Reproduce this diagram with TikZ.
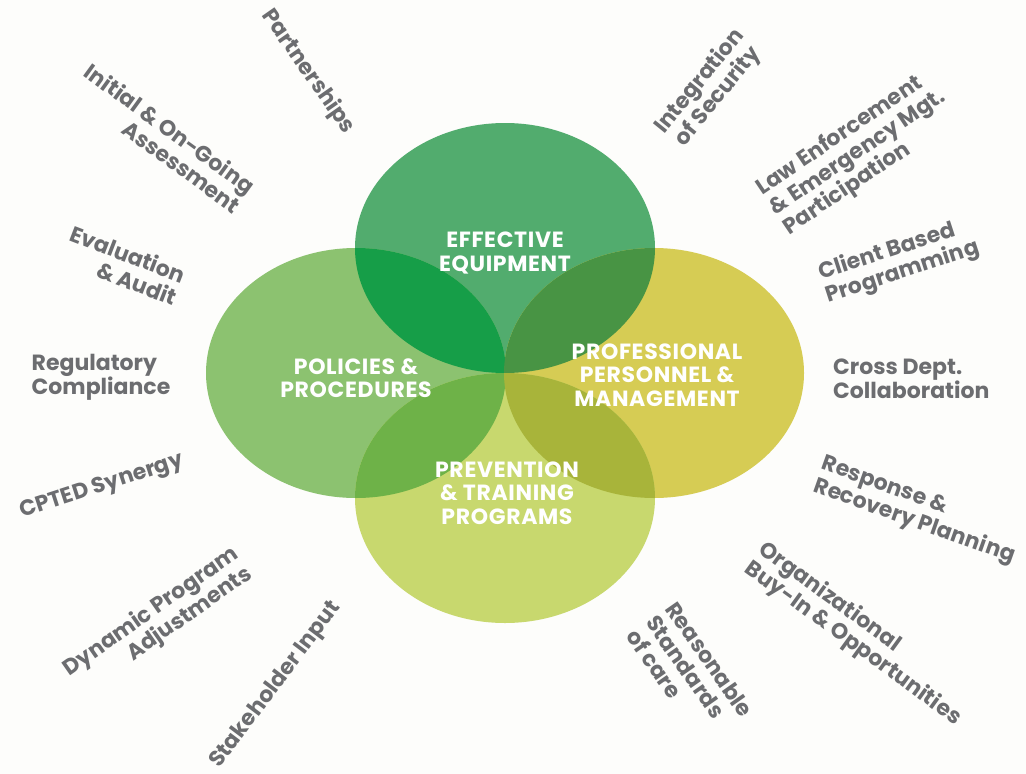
\documentclass[tikz,border=0pt]{standalone}
\usepackage{fontspec}
\setmainfont{Poppins}
\definecolor{paper}{RGB}{253,253,251}
\definecolor{labelgray}{RGB}{108,109,112}
\definecolor{topgreen}{RGB}{82,172,110}
\definecolor{leftgreen}{RGB}{140,194,112}
\definecolor{rightolive}{RGB}{214,204,84}
\definecolor{botlime}{RGB}{200,216,110}
\definecolor{topleft}{RGB}{22,158,72}
\definecolor{topright}{RGB}{72,148,68}
\definecolor{botleft}{RGB}{110,178,72}
\definecolor{botright}{RGB}{168,180,58}
\tikzset{
  outer/.style={text=labelgray, inner sep=0pt, font=\bfseries\fontsize{22}{24}\selectfont},
  inner/.style={text=white, align=center, inner sep=0pt, font=\bfseries\fontsize{22}{23.5}\selectfont\addfontfeature{LetterSpace=3}},
  petal/.style={x radius=150, y radius=125}
}
\begin{document}
\begin{tikzpicture}[x=1pt,y=-1pt]
\useasboundingbox[fill=paper] (0,0) rectangle (1026,774);

\coordinate (ctop) at (505,248);
\coordinate (cleft) at (356,373);
\coordinate (cright) at (654,373);
\coordinate (cbot) at (505,498);

\fill[topgreen] (ctop) ellipse [petal];
\fill[leftgreen] (cleft) ellipse [petal];
\fill[rightolive] (cright) ellipse [petal];
\fill[botlime] (cbot) ellipse [petal];
\begin{scope}% overlaps of the top one
	\clip (ctop) ellipse [petal];
	\fill[topleft] (cleft) ellipse [petal];
	\fill[topright] (cright) ellipse [petal];
\end{scope}
\begin{scope}% overlaps of the bottom one
	\clip (cbot) ellipse [petal];
	\fill[botleft] (cleft) ellipse [petal];
	\fill[botright] (cright) ellipse [petal];
\end{scope}

\node[inner] (equip) at (505,253) {EFFECTIVE\\EQUIPMENT};
\node[inner] (policy) at (356,378) {POLICIES \&\\PROCEDURES};
\node[inner] (staff) at (657,375) {PROFESSIONAL\\PERSONNEL \&\\MANAGEMENT};
\node[inner] (prevent) at (507,493) {PREVENTION\\\& TRAINING\\PROGRAMS};

% left half
\node[outer, rotate=-55] (partner) at (308,72) {Partnerships};
\node[outer, align=right, rotate=-36] (assess) at (163,138) {Initial \& On-Going\\Assessment};
\node[outer, align=right, rotate=-21] (audit) at (124,265) {Evaluation\\\& Audit};
\node[outer, align=left] (comply) at (101,377) {Regulatory\\Compliance};
\node[outer, rotate=18] (cpted) at (102,487) {CPTED Synergy};
\node[outer, align=right, rotate=35] (dynamic) at (158,622) {Dynamic Program\\Adjustments};
\node[outer, rotate=53] (stake) at (276,685) {Stakeholder Input};
% right half
\node[outer, align=center, rotate=51] (integ) at (709,89) {Integration\\of Security};
\node[outer, align=left, rotate=34] (law) at (858,153) {Law Enforcement\\\& Emergency Mgt.\\Participation};
\node[outer, align=left, rotate=18] (client) at (899,261) {Client Based\\Programming};
\node[outer, align=left, anchor=west] (cross) at (833,379) {Cross Dept.\\Collaboration};
\node[outer, align=left, rotate=-19.5] (response) at (918,511) {Response \&\\Recovery Planning};
\node[outer, align=left, rotate=-36] (buyin) at (860,634) {Organizational\\Buy-In \& Opportunities};
\node[outer, align=left, rotate=-55] (care) at (690,673) {Reasonable\\Standards\\of care};
\end{tikzpicture}
\end{document}
